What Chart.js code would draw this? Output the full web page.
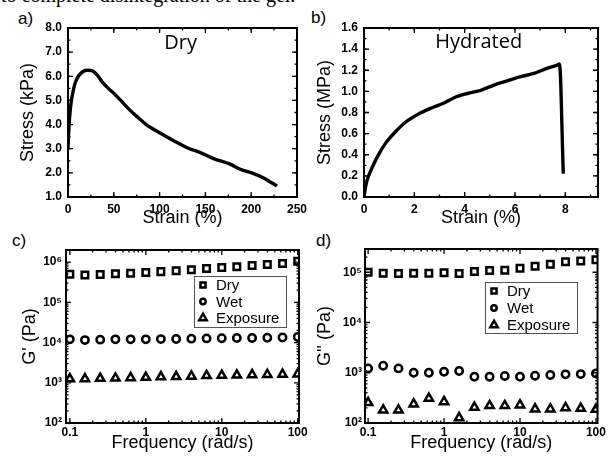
<!DOCTYPE html>
<html>
<head>
<meta charset="utf-8">
<script src="https://cdn.jsdelivr.net/npm/chart.js@4/dist/chart.umd.min.js"></script>
<style>
  body { margin: 0; background: #fff; }
  #wrap { position: relative; width: 608px; height: 464px; overflow: hidden; }
  canvas { position: absolute; left: 0; top: 0; }
  #cap { position: absolute; left: 1px; top: -15px; font: 20px/20px "Liberation Serif", serif; white-space: nowrap; }
  .lab { position: absolute; font: 17px "Liberation Sans", Arial, sans-serif; }
</style>
</head>
<body>
<div id="wrap">
  <div id="cap">to complete disintegration of the gel.</div>
  <div class="lab" style="left:18px;top:9px">a)</div>
  <div class="lab" style="left:311px;top:8px">b)</div>
  <div class="lab" style="left:12px;top:231px">c)</div>
  <div class="lab" style="left:316px;top:231px">d)</div>
  <canvas id="ga" width="608" height="464"></canvas>
  <canvas id="gb" width="608" height="464"></canvas>
  <canvas id="gc" width="608" height="464"></canvas>
  <canvas id="gd" width="608" height="464"></canvas>
</div>
<script>
// a) dry gel, stress-strain
const strainDry = [0, 0.7, 1.8, 3.3, 5.5, 8, 11.6, 16.4, 21.5, 26.2, 31.7, 37.1, 42.6, 49.9, 57.1, 66.2, 75.3, 86.2, 100, 115.4, 130, 144.5, 159, 177, 188, 202.7, 213.6, 222.7, 228.2];
const stressDry = [3.0, 3.63, 4.33, 4.88, 5.37, 5.74, 6.02, 6.2, 6.25, 6.23, 6.06, 5.78, 5.55, 5.3, 5.02, 4.65, 4.33, 3.98, 3.66, 3.33, 3.04, 2.84, 2.59, 2.36, 2.15, 1.97, 1.79, 1.58, 1.46];

// b) hydrated gel, stress-strain
const strainHyd = [0, 0.1, 0.27, 0.53, 0.86, 1.26, 1.66, 2.12, 2.65, 3.18, 3.58, 4.11, 4.64, 5.17, 5.7, 6.23, 6.76, 7.29, 7.69, 7.77, 7.92];
const stressHyd = [0.01, 0.14, 0.25, 0.38, 0.51, 0.62, 0.71, 0.78, 0.84, 0.89, 0.94, 0.98, 1.01, 1.06, 1.1, 1.14, 1.17, 1.22, 1.25, 1.26, 0.22];

// c), d) frequency sweeps
const freq = [0.1, 0.158, 0.251, 0.398, 0.631, 1, 1.58, 2.51, 3.98, 6.31, 10, 15.8, 25.1, 39.8, 63.1, 100];
const gpDry = [5.0e5, 4.8e5, 4.9e5, 5.1e5, 5.3e5, 5.5e5, 5.8e5, 6.1e5, 6.5e5, 6.9e5, 7.3e5, 7.7e5, 8.2e5, 8.7e5, 9.2e5, 1.05e6];
const gpWet = [1.2e4, 1.15e4, 1.18e4, 1.2e4, 1.2e4, 1.2e4, 1.22e4, 1.23e4, 1.25e4, 1.27e4, 1.28e4, 1.3e4, 1.3e4, 1.32e4, 1.33e4, 1.38e4];
const gpExp = [1.25e3, 1.25e3, 1.28e3, 1.3e3, 1.33e3, 1.36e3, 1.4e3, 1.42e3, 1.45e3, 1.5e3, 1.52e3, 1.55e3, 1.58e3, 1.6e3, 1.62e3, 1.65e3];
const gppDry = [1.0e5, 9.5e4, 9.4e4, 9.5e4, 9.5e4, 9.8e4, 9.4e4, 1.04e5, 1.08e5, 1.1e5, 1.2e5, 1.31e5, 1.45e5, 1.61e5, 1.68e5, 1.78e5];
const gppWet = [1220, 1380, 1220, 1000, 1000, 1050, 1080, 830, 830, 860, 830, 870, 900, 930, 940, 970];
const gppExp = [254, 181, 181, 239, 310, 265, 127, 205, 221, 221, 228, 190, 190, 201, 196, 187];

const seriesNames = ["Dry", "Wet", "Exposure"];
const freqTicks = [0.1, 1, 10, 100];
const gpTicks = [1e2, 1e3, 1e4, 1e5, 1e6];
const gppTicks = [1e2, 1e3, 1e4, 1e5];

const tickFont = { family: "'Liberation Sans', Arial, sans-serif", weight: "bold", size: 12 };
const titleFont = { family: "'Liberation Sans', Arial, sans-serif", size: 18 };
const sup = { 2: "\u00b2", 3: "\u00b3", 4: "\u2074", 5: "\u2075", 6: "\u2076" };

// box round the plot, with inward major/minor ticks on all four sides
const frame = {
  id: "frame",
  afterDatasetsDraw(chart, args, opts) {
    const { ctx, chartArea: a, scales } = chart;
    ctx.save();
    ctx.strokeStyle = "#000";
    ctx.lineWidth = 1.3;
    for (const id of ["x", "y"]) {
      const s = scales[id];
      const hor = s.isHorizontal();
      const marks = s.ticks.map((t) => [t.value, 5]);
      const m = opts[id];
      if (m === "log") {
        for (let d = Math.floor(Math.log10(s.min)); d <= Math.ceil(Math.log10(s.max)); d++) {
          for (let k = 2; k <= 9; k++) marks.push([k * Math.pow(10, d), 2.5]);
        }
      } else {
        for (let v = s.min; v <= s.max + 1e-9; v += m) marks.push([v, 2.5]);
      }
      for (const [v, len] of marks) {
        if (v < s.min || v > s.max) continue;
        const p = s.getPixelForValue(v);
        ctx.beginPath();
        if (hor) {
          ctx.moveTo(p, a.bottom); ctx.lineTo(p, a.bottom - len);
          ctx.moveTo(p, a.top); ctx.lineTo(p, a.top + len);
        } else {
          ctx.moveTo(a.left, p); ctx.lineTo(a.left + len, p);
          ctx.moveTo(a.right, p); ctx.lineTo(a.right - len, p);
        }
        ctx.stroke();
      }
    }
    ctx.lineWidth = 2;
    ctx.strokeRect(a.left, a.top, a.right - a.left, a.bottom - a.top);
    ctx.restore();
  },
};

// panel caption inside the plot ("Dry", "Hydrated")
const note = {
  id: "note",
  afterDatasetsDraw(chart, args, o) {
    if (!o.text) return;
    const { ctx, scales } = chart;
    ctx.save();
    ctx.font = "20px 'Open Sans', sans-serif";
    ctx.fillStyle = "#000";
    ctx.textAlign = "center";
    ctx.textBaseline = "middle";
    ctx.fillText(o.text, scales.x.getPixelForValue(o.x), scales.y.getPixelForValue(o.y));
    ctx.restore();
  },
};

// boxed legend inside the plot
const box = {
  id: "box",
  afterDatasetsDraw(chart, args, o) {
    if (!o.w) return;
    const { ctx, chartArea: a } = chart;
    const x0 = a.left + o.x, y0 = a.top + o.y;
    ctx.save();
    ctx.strokeStyle = "#555";
    ctx.lineWidth = 1;
    ctx.fillStyle = "#fff";
    ctx.fillRect(x0, y0, o.w, o.h);
    ctx.strokeRect(x0 + 0.5, y0 + 0.5, o.w, o.h);
    ctx.font = "15px 'Liberation Sans', Arial, sans-serif";
    ctx.textBaseline = "middle";
    chart.data.datasets.forEach((ds, i) => {
      const y = y0 + o.first + i * o.gap;
      ctx.strokeStyle = "#000";
      ctx.fillStyle = "#fff";
      ctx.lineWidth = 2.5;
      const r = { rect: 3.6, circle: 2.7, triangle: 4.3 }[ds.pointStyle];
      Chart.helpers.drawPoint(ctx, { pointStyle: ds.pointStyle, rotation: 0, radius: r, borderWidth: 2.5 }, x0 + 9, y);
      ctx.fillStyle = "#000";
      ctx.fillText(ds.label, x0 + 22, y + 1);
    });
    ctx.restore();
  },
};

function linearScale(min, max, step, pad, title, tpad, size, hor, label) {
  const s = {
    type: "linear", min: min, max: max,
    grid: { display: false, drawTicks: false }, border: { display: false },
    ticks: { stepSize: step, padding: pad, font: tickFont, color: "#000", autoSkip: false, maxRotation: 0, includeBounds: false },
    title: { display: true, text: title, font: titleFont, color: "#000", padding: tpad },
  };
  if (label) s.ticks.callback = label;
  if (hor) s.afterFit = (sc) => { sc.height = size; };
  else s.afterFit = (sc) => { sc.width = size; };
  return s;
}

function logScale(min, max, values, label, pad, title, tpad, size, hor) {
  const s = linearScale(min, max, undefined, pad, title, tpad, size, hor, label);
  s.type = "logarithmic";
  s.afterBuildTicks = (sc) => { sc.ticks = values.map((v) => ({ value: v, major: true })); };
  return s;
}

const pow10 = (v) => "10" + sup[Math.round(Math.log10(v))];
const oneDec = (v) => v.toFixed(1);

function curve(xs, ys) {
  return [{
    data: xs.map((x, i) => ({ x: x, y: ys[i] })),
    showLine: true, borderColor: "#000", borderWidth: 3.4, pointRadius: 0,
    cubicInterpolationMode: "monotone",
  }];
}

function sweep(d, w, e) {
  const one = (label, ys, style, r) => ({
    label: label, data: freq.map((f, i) => ({ x: f, y: ys[i] })),
    pointStyle: style, pointRadius: r, borderWidth: 2.5, pointBorderWidth: 2.5,
    borderColor: "#000", backgroundColor: "#fff", clip: 0,
  });
  return [one(seriesNames[0], d, "rect", 4.6), one(seriesNames[1], w, "circle", 3.7), one(seriesNames[2], e, "triangle", 4.8)];
}

function base(padding, plugins) {
  return {
    responsive: false, animation: false, devicePixelRatio: 1,
    layout: { padding: padding },
    plugins: Object.assign({ legend: { display: false }, tooltip: { enabled: false } }, plugins),
  };
}

// a)
new Chart(document.getElementById("ga"), {
  type: "scatter",
  data: { datasets: curve(strainDry, stressDry) },
  options: Object.assign(base({ left: 0, top: 28, right: 311, bottom: 224 },
    { frame: { x: 25, y: 0.5 }, note: { text: "Dry", x: 123, y: 7.38 } }), {
    scales: {
      x: linearScale(0, 250, 50, 5, "Strain (%)", { top: 0, bottom: 11 }, 43, true),
      y: linearScale(1, 8, 1, 6, "Stress (kPa)", { top: 17, bottom: 0 }, 68, false, oneDec),
    },
  }),
  plugins: [frame, note],
});

// b)
new Chart(document.getElementById("gb"), {
  type: "scatter",
  data: { datasets: curve(strainHyd, stressHyd) },
  options: Object.assign(base({ left: 304, top: 28, right: 10, bottom: 224 },
    { frame: { x: 1, y: 0.1 }, note: { text: "Hydrated", x: 4.56, y: 1.463 } }), {
    scales: {
      x: linearScale(0, 9.3, 2, 5, "Strain (%)", { top: 0, bottom: 11 }, 43, true),
      y: linearScale(0, 1.6, 0.2, 6, "Stress (MPa)", { top: 10, bottom: 0 }, 60, false, oneDec),
    },
  }),
  plugins: [frame, note],
});

// c)
new Chart(document.getElementById("gc"), {
  type: "scatter",
  data: { datasets: sweep(gpDry, gpWet, gpExp) },
  options: Object.assign(base({ left: 0, top: 250, right: 309, bottom: 0 },
    { frame: { x: "log", y: "log" }, box: { x: 128, y: 26, w: 92, h: 51, first: 9, gap: 16.5 } }), {
    scales: {
      x: logScale(0.089, 104, freqTicks, (v) => String(v), 2, "Frequency (rad/s)", { top: 0, bottom: 10 }, 41, true),
      y: logScale(100, 2e6, gpTicks, pow10, 4, "G' (Pa)", { top: 19, bottom: 0 }, 66, false),
    },
  }),
  plugins: [frame, box],
});

// d)
new Chart(document.getElementById("gd"), {
  type: "scatter",
  data: { datasets: sweep(gppDry, gppWet, gppExp) },
  options: Object.assign(base({ left: 304, top: 249, right: 9, bottom: 0 },
    { frame: { x: "log", y: "log" }, box: { x: 120, y: 33, w: 92, h: 51, first: 9, gap: 17 } }), {
    scales: {
      x: logScale(0.091, 105, freqTicks, (v) => String(v), 2, "Frequency (rad/s)", { top: 0, bottom: 10 }, 41, true),
      y: logScale(100, 2.9e5, gppTicks, pow10, 3, "G'' (Pa)", { top: 10, bottom: 0 }, 61, false),
    },
  }),
  plugins: [frame, box],
});
</script>
</body>
</html>
